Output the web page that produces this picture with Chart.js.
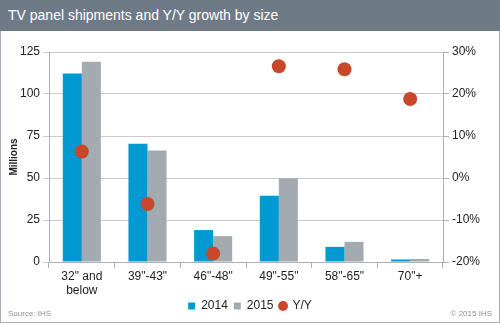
<!DOCTYPE html>
<html><head><meta charset="utf-8">
<script src="https://cdn.jsdelivr.net/npm/chart.js@4.4.1/dist/chart.umd.min.js"></script>
<style>
html,body{margin:0;padding:0;background:#fff;}
#wrap{position:relative;width:500px;height:325px;overflow:hidden;font-family:"Liberation Sans",Arial,sans-serif;}
#head{position:absolute;left:0;top:0;width:500px;height:31px;background:#6f7a87;color:#fff;font-size:14px;line-height:31px;padding-left:8px;box-sizing:border-box;}
#frame{position:absolute;left:0;top:31px;width:500px;height:292px;border:1px solid #a9b0b7;border-top:none;box-sizing:border-box;}
#cv{position:absolute;left:0;top:31px;}
#src{position:absolute;left:8px;top:309px;font-size:8px;color:#8a8f95;}
#copy{position:absolute;right:8px;top:309px;font-size:8px;color:#8a8f95;}
</style></head>
<body><div id="wrap">
<div id="head">TV panel shipments and Y/Y growth by size</div>
<div id="frame"></div>
<canvas id="cv" width="500" height="296"></canvas>
<div id="src">Source: IHS</div>
<div id="copy">© 2015 IHS</div>
</div>
<script>
const categories = [['32" and','below'], '39"-43"', '46"-48"', '49"-55"', '58"-65"', '70"+'];
const ship2014 = [112.2, 70.4, 19.0, 39.5, 9.0, 1.5];
const ship2015 = [119.2, 66.4, 15.4, 49.8, 12.0, 1.8];
const yoy = [6.3, -6.2, -18.0, 26.6, 25.9, 18.8];
const leftTicks = [0, 25, 50, 75, 100, 125];
const rightTicks = [-20, -10, 0, 10, 20, 30];

const font = "'Liberation Sans', Arial, sans-serif";
const axisGray = '#a9b0b7';
const legendShift = {
  id:'legendShift',
  afterLayout(chart){ const l = chart.legend; if(l){ l.top -= 4; l.bottom -= 4; } }
};
new Chart(document.getElementById('cv'), {
  type: 'bar',
  data: {
    labels: categories,
    datasets: [
      {type:'line', label:'Y/Y', data: yoy, yAxisID:'y1', showLine:false, pointRadius:7, pointHoverRadius:7,
       backgroundColor:'#c9472a', borderColor:'#c9472a', pointBorderWidth:0, pointStyle:'circle', order:0},
      {label:'2014', data: ship2014, backgroundColor:'#0099d1', yAxisID:'y', pointStyle:'rect', order:1},
      {label:'2015', data: ship2015, backgroundColor:'#a3abb1', yAxisID:'y', pointStyle:'rect', order:1}
    ]
  },
  plugins:[legendShift],
  options: {
    responsive:false, animation:false,
    layout:{padding:{top:21,bottom:1,left:0,right:0}},
    datasets:{bar:{barPercentage:1, categoryPercentage:0.58}},
    plugins:{
      tooltip:{enabled:false},
      legend:{position:'bottom',
        labels:{font:{family:font,size:12}, color:'#222', usePointStyle:true, boxWidth:7, boxHeight:7, padding:6,
          sort:(a,b)=>{const o={'2014':0,'2015':1,'Y/Y':2};return o[a.text]-o[b.text];}}}
    },
    scales:{
      x:{
        grid:{drawOnChartArea:false, color:axisGray, tickLength:6, offset:true},
        border:{color:axisGray},
        ticks:{font:{family:font,size:12}, color:'#222', maxRotation:0, autoSkip:false, padding:1},
        afterFit:(s)=>{s.height=36;}
      },
      y:{
        position:'left', min:0, max:125,
        afterBuildTicks:(s)=>{s.ticks=leftTicks.map(v=>({value:v}));},
        grid:{color:'#c5cbd1', tickLength:6, drawTicks:true},
        border:{color:axisGray},
        ticks:{font:{family:font,size:12}, color:'#222', padding:3},
        title:{display:true, text:'Millions', font:{family:font,size:10,weight:'bold'}, color:'#222', padding:{top:8,bottom:0}},
        afterFit:(s)=>{s.width=49;}
      },
      y1:{
        position:'right', min:-20, max:30,
        afterBuildTicks:(s)=>{s.ticks=rightTicks.map(v=>({value:v}));},
        grid:{drawOnChartArea:false, color:axisGray, tickLength:6},
        border:{color:axisGray},
        ticks:{font:{family:font,size:12}, color:'#222', padding:3, callback:(v)=>v+'%'},
        afterFit:(s)=>{s.width=57;}
      }
    }
  }
});
</script>
</body></html>
